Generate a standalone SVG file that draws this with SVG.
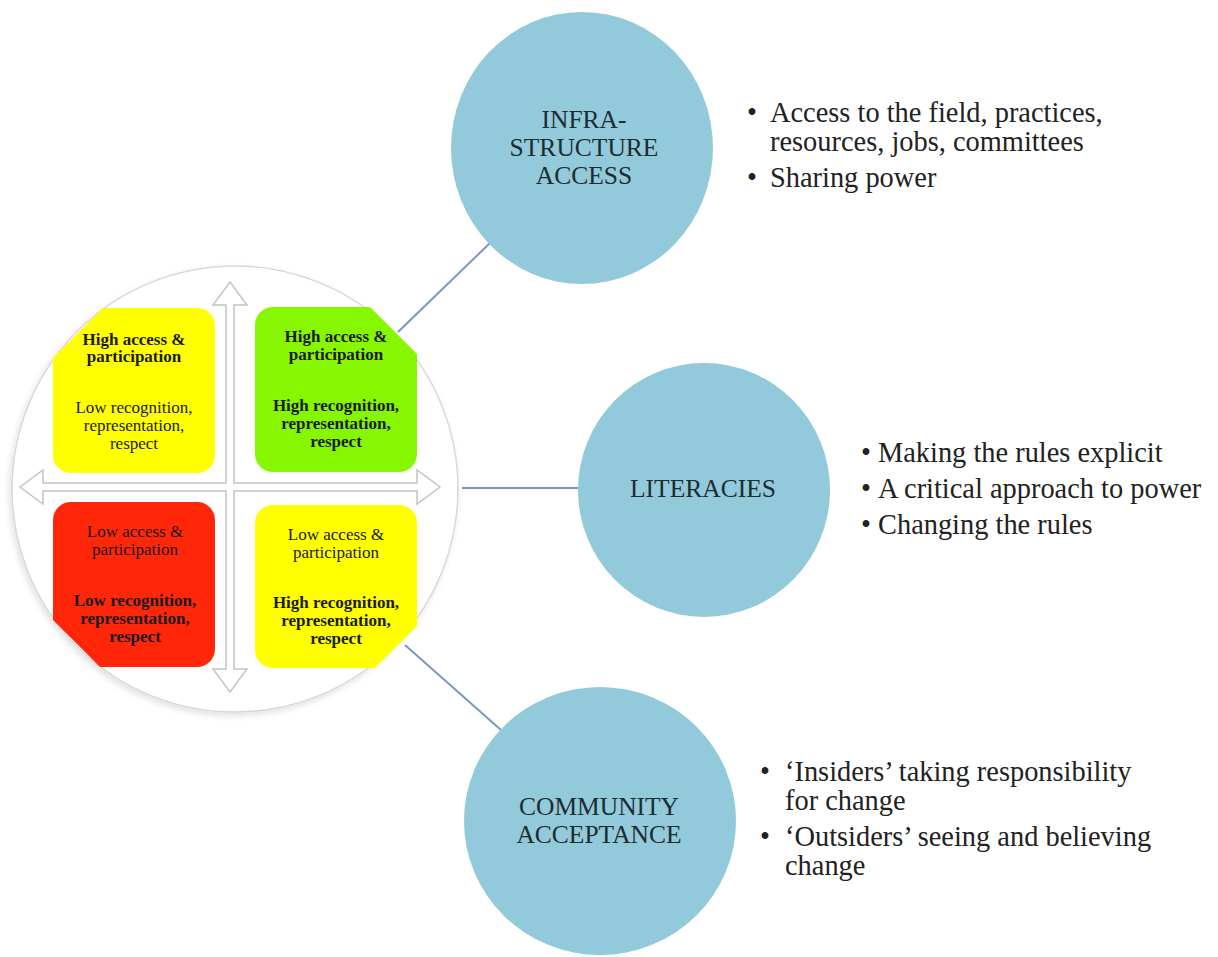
<svg xmlns="http://www.w3.org/2000/svg" width="1218" height="957" viewBox="0 0 1218 957">
<style>
.bg{fill:#ffffff}
.hub{fill:#ffffff;stroke:#d8d8d8;stroke-width:1.5}
.axis{fill:#ffffff;stroke:#c4c4c4;stroke-width:1.5;stroke-linejoin:miter}
.yel{fill:#ffff00}
.grn{fill:#86f700}
.red{fill:#ff260a}
.q{font-family:"Liberation Serif","Times New Roman",serif;font-size:17px;fill:#1b1b1b;text-anchor:middle}
.b{font-weight:bold}
.node{fill:#92cadb}
.lbl{font-family:"Liberation Serif","Times New Roman",serif;font-size:25.5px;fill:#1c2c30;text-anchor:middle}
.bul{font-family:"Liberation Serif","Times New Roman",serif;font-size:28.4px;fill:#222222}
.conn{stroke:#7b96c2;stroke-width:2;fill:none}
</style>
<defs>
<filter id="soft" x="-10%" y="-10%" width="120%" height="120%">
<feDropShadow dx="-2" dy="3" stdDeviation="3" flood-color="#000000" flood-opacity="0.12"/>
</filter>
</defs>
<rect class="bg" x="0" y="0" width="1218" height="957"/>

<g id="connectors">
<line class="conn" x1="398" y1="332" x2="490" y2="243"/>
<line class="conn" x1="462" y1="488" x2="579" y2="488"/>
<line class="conn" x1="405" y1="645" x2="501" y2="730"/>
</g>

<g id="matrix">
<circle class="hub" cx="235" cy="489" r="223" filter="url(#soft)"/>
<polygon class="axis" points="230,282 247,305 234,305 234,483 417,483 417,470 440,487 417,504 417,491 234,491 234,669 247,669 230,692 213,669 226,669 226,491 43,491 43,504 20,487 43,470 43,483 226,483 226,305 213,305"/>
</g>

<g id="q-top-left">
<path class="yel" d="M53,358 L103,308 L197,308 A18,18 0 0 1 215,326 L215,455 A18,18 0 0 1 197,473 L71,473 A18,18 0 0 1 53,455 Z"/>
<text class="q b" x="134" y="345">High access &amp;</text>
<text class="q b" x="134" y="362">participation</text>
<text class="q" x="134" y="413">Low recognition,</text>
<text class="q" x="134" y="431">representation,</text>
<text class="q" x="134" y="449">respect</text>
</g>

<g id="q-top-right">
<path class="grn" d="M273,307 L370,307 L417,354 L417,454 A18,18 0 0 1 399,472 L273,472 A18,18 0 0 1 255,454 L255,325 A18,18 0 0 1 273,307 Z"/>
<text class="q b" x="336" y="342">High access &amp;</text>
<text class="q b" x="336" y="360">participation</text>
<text class="q b" x="336" y="411">High recognition,</text>
<text class="q b" x="336" y="429">representation,</text>
<text class="q b" x="336" y="447">respect</text>
</g>

<g id="q-bottom-left">
<path class="red" d="M71,502 L197,502 A18,18 0 0 1 215,520 L215,649 A18,18 0 0 1 197,667 L100,667 L53,620 L53,520 A18,18 0 0 1 71,502 Z"/>
<text class="q" x="135" y="537">Low access &amp;</text>
<text class="q" x="135" y="555">participation</text>
<text class="q b" x="135" y="606">Low recognition,</text>
<text class="q b" x="135" y="624">representation,</text>
<text class="q b" x="135" y="642">respect</text>
</g>

<g id="q-bottom-right">
<path class="yel" d="M273,505 L399,505 A18,18 0 0 1 417,523 L417,626 L375,668 L273,668 A18,18 0 0 1 255,650 L255,523 A18,18 0 0 1 273,505 Z"/>
<text class="q" x="336" y="540">Low access &amp;</text>
<text class="q" x="336" y="558">participation</text>
<text class="q b" x="336" y="608">High recognition,</text>
<text class="q b" x="336" y="626">representation,</text>
<text class="q b" x="336" y="644">respect</text>
</g>

<g id="node-infrastructure">
<ellipse class="node" cx="582" cy="148" rx="131" ry="136"/>
<text class="lbl" x="584" y="128">INFRA-</text>
<text class="lbl" x="584" y="156">STRUCTURE</text>
<text class="lbl" x="584" y="184">ACCESS</text>
</g>

<g id="node-literacies">
<ellipse class="node" cx="704" cy="490" rx="126" ry="127"/>
<text class="lbl" x="703" y="497">LITERACIES</text>
</g>

<g id="node-community">
<ellipse class="node" cx="600" cy="821" rx="136" ry="134"/>
<text class="lbl" x="599" y="815">COMMUNITY</text>
<text class="lbl" x="599" y="843">ACCEPTANCE</text>
</g>

<g id="notes-infrastructure">
<text class="bul" x="747" y="122">•</text>
<text class="bul" x="770" y="122">Access to the field, practices,</text>
<text class="bul" x="770" y="151">resources, jobs, committees</text>
<text class="bul" x="747" y="187">•</text>
<text class="bul" x="770" y="187">Sharing power</text>
</g>

<g id="notes-literacies">
<text class="bul" x="861" y="462">•</text>
<text class="bul" x="878" y="462">Making the rules explicit</text>
<text class="bul" x="861" y="498">•</text>
<text class="bul" x="878" y="498">A critical approach to power</text>
<text class="bul" x="861" y="534">•</text>
<text class="bul" x="878" y="534">Changing the rules</text>
</g>

<g id="notes-community">
<text class="bul" x="760" y="781">•</text>
<text class="bul" x="785" y="781">‘Insiders’ taking responsibility</text>
<text class="bul" x="785" y="810">for change</text>
<text class="bul" x="760" y="846">•</text>
<text class="bul" x="785" y="846">‘Outsiders’ seeing and believing</text>
<text class="bul" x="785" y="875">change</text>
</g>
</svg>
